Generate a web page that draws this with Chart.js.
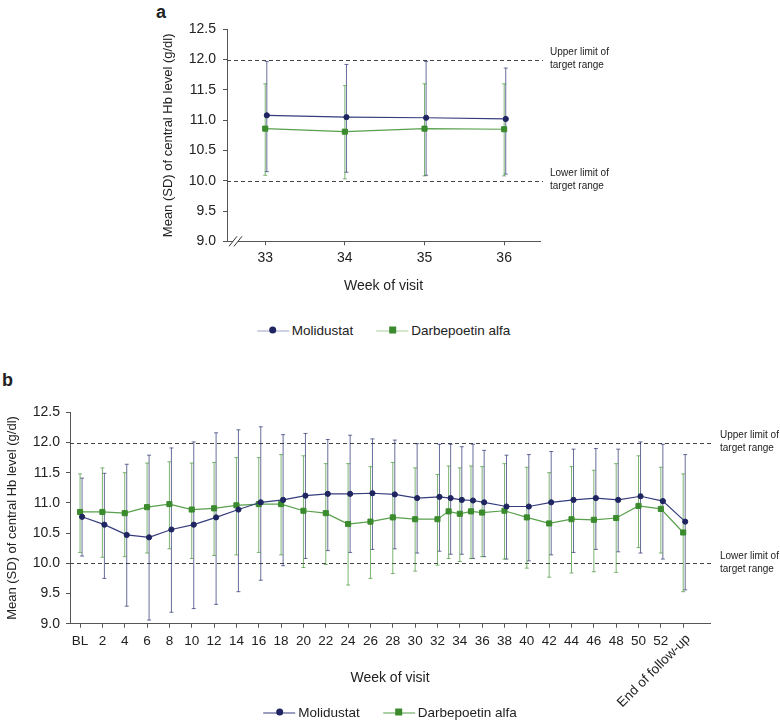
<!DOCTYPE html>
<html>
<head>
<meta charset="utf-8">
<script src="https://cdn.jsdelivr.net/npm/chart.js@4.4.1/dist/chart.umd.min.js"></script>
<style>
  html, body { margin: 0; padding: 0; background: #fff; }
  body { width: 780px; height: 721px; position: relative; overflow: hidden;
         font-family: 'Liberation Sans', Arial, sans-serif; color: #222; }
  canvas { position: absolute; left: 0; }
  #chartA { top: 0; }
  #chartB { top: 350px; }
  .tag { position: absolute; font-weight: bold; font-size: 18px; line-height: 18px; }
  .legend { position: absolute; display: flex; gap: 23px; transform: translate(-50%, -50%);
            font-size: 13.5px; white-space: nowrap; }
  .item { display: flex; align-items: center; }
  .swatch { position: relative; width: 32px; height: 10px; margin-right: 3px; }
  .swatch .ln { position: absolute; left: 0; right: 0; top: 5px; height: 1px; }
  .swatch .mk { position: absolute; left: 12.5px; top: 1.5px; width: 7px; height: 7px; }
</style>
</head>
<body>
<div class="tag" style="left:156px; top:3px;">a</div>
<div class="tag" style="left:2px; top:371px;">b</div>
<canvas id="chartA" width="780" height="300"></canvas>
<canvas id="chartB" width="780" height="371"></canvas>
<div class="legend" id="legendA" style="top:330px;"></div>
<div class="legend" id="legendB" style="top:712px;"></div>
<script>
// ---- data ----
const seriesNames = ['Molidustat', 'Darbepoetin alfa'];

// panel a: weeks 33-36
const weeksA = [33, 34, 35, 36];
const moliMeanA = [11.08, 11.05, 11.04, 11.02];
const moliUpA   = [11.97, 11.92, 11.97, 11.86];
const moliLowA  = [10.15, 10.14, 10.09, 10.11];
const darbMeanA = [10.86, 10.81, 10.86, 10.85];
const darbUpA   = [11.60, 11.57, 11.60, 11.60];
const darbLowA  = [10.09, 10.03, 10.08, 10.08];

// panel b: whole study (BL = week 0, end of follow-up plotted at 54)
const weeksB = [0, 2, 4, 6, 8, 10, 12, 14, 16, 18, 20, 22, 24, 26, 28, 30, 32, 33, 34, 35, 36,
                38, 40, 42, 44, 46, 48, 50, 52, 54];
const moliMeanB = [10.77, 10.64, 10.47, 10.43, 10.56, 10.64, 10.76, 10.89, 11.01, 11.05, 11.12, 11.15,
                   11.15, 11.16, 11.14, 11.08, 11.10, 11.08, 11.05, 11.04, 11.01, 10.94, 10.94, 11.01,
                   11.05, 11.08, 11.05, 11.11, 11.03, 10.69];
const moliUpB   = [11.41, 11.49, 11.64, 11.79, 11.91, 12.01, 12.16, 12.21, 12.26, 12.13, 12.15, 12.05,
                   12.12, 12.06, 12.04, 11.98, 11.97, 11.97, 11.93, 11.97, 11.87, 11.79, 11.80, 11.85,
                   11.89, 11.90, 11.89, 12.01, 11.97, 11.80];
const moliLowB  = [10.12, 9.75, 9.29, 9.06, 9.19, 9.25, 9.32, 9.53, 9.72, 9.96, 10.08, 10.21,
                   10.18, 10.23, 10.24, 10.17, 10.20, 10.15, 10.15, 10.08, 10.11, 10.07, 10.04, 10.14,
                   10.18, 10.23, 10.19, 10.17, 10.07, 9.56];
const darbMeanB = [10.85, 10.85, 10.83, 10.93, 10.98, 10.89, 10.91, 10.96, 10.98, 10.98, 10.87, 10.83,
                   10.65, 10.69, 10.76, 10.73, 10.73, 10.86, 10.82, 10.86, 10.84, 10.87, 10.76, 10.66,
                   10.73, 10.72, 10.75, 10.95, 10.90, 10.51];
const darbUpB   = [11.48, 11.58, 11.50, 11.66, 11.68, 11.66, 11.67, 11.75, 11.75, 11.80, 11.78, 11.65,
                   11.65, 11.60, 11.67, 11.58, 11.47, 11.61, 11.58, 11.61, 11.60, 11.65, 11.59, 11.50,
                   11.60, 11.54, 11.65, 11.78, 11.59, 11.48];
const darbLowB  = [10.18, 10.10, 10.11, 10.17, 10.24, 10.08, 10.13, 10.14, 10.18, 10.14, 9.93, 9.98,
                   9.64, 9.75, 9.83, 9.87, 9.97, 10.08, 10.03, 10.08, 10.11, 10.07, 9.92, 9.77,
                   9.84, 9.86, 9.85, 10.26, 10.17, 9.53];

// ticks
const yTicks = [9.0, 9.5, 10.0, 10.5, 11.0, 11.5, 12.0, 12.5];
const xTicksA = [33, 34, 35, 36];
const xTickWeeksB = [0, 2, 4, 6, 8, 10, 12, 14, 16, 18, 20, 22, 24, 26, 28, 30, 32, 34, 36, 38,
                     40, 42, 44, 46, 48, 50, 52, 54];
const xTickLabelsB = ['BL', '2', '4', '6', '8', '10', '12', '14', '16', '18', '20', '22', '24', '26',
                      '28', '30', '32', '34', '36', '38', '40', '42', '44', '46', '48', '50', '52',
                      'End of follow-up'];

// target range
const targetLimits = [12.0, 10.0];
const targetNotes = [['Upper limit of', 'target range'], ['Lower limit of', 'target range']];

// ---- style ----
const FONT = "'Liberation Sans', Arial, sans-serif";
const NAVY = '#1f2560';
const NAVY_LINE = '#363d7c';
const NAVY_ERR = 'rgba(40, 48, 112, 0.7)';
const GREEN = '#3b8b2e';
const GREEN_LINE = '#58a04b';
const GREEN_ERR = 'rgba(70, 150, 55, 0.7)';
const AXIS = '#555';
const yTitle = 'Mean (SD) of central Hb level (g/dl)';

Chart.defaults.font.family = FONT;
Chart.defaults.color = '#222';

// draws SD whiskers from the errUp/errLow arrays on each dataset
const errorBars = {
  id: 'errorBars',
  beforeDatasetsDraw(chart) {
    const ctx = chart.ctx, ys = chart.scales.y;
    chart.data.datasets.forEach((ds, i) => {
      const meta = chart.getDatasetMeta(i);
      ctx.save();
      ctx.strokeStyle = ds.errColor;
      ctx.lineWidth = 1;
      meta.data.forEach((pt, j) => {
        const x = pt.x;
        const yt = ys.getPixelForValue(ds.errUp[j]);
        const yb = ys.getPixelForValue(ds.errLow[j]);
        ctx.beginPath();
        ctx.moveTo(x, yt); ctx.lineTo(x, yb);
        ctx.moveTo(x - 2, yt); ctx.lineTo(x + 2, yt);
        ctx.moveTo(x - 2, yb); ctx.lineTo(x + 2, yb);
        ctx.stroke();
      });
      ctx.restore();
    });
  }
};

// dashed target-range lines with notes at the right
const targetLines = {
  id: 'targetLines',
  beforeDatasetsDraw(chart) {
    const ctx = chart.ctx, a = chart.chartArea, ys = chart.scales.y;
    ctx.save();
    ctx.strokeStyle = '#444';
    ctx.lineWidth = 1;
    ctx.setLineDash([4, 3]);
    targetLimits.forEach(v => {
      const y = Math.round(ys.getPixelForValue(v)) + 0.5;
      ctx.beginPath();
      ctx.moveTo(a.left, y);
      ctx.lineTo(a.right + 3, y);
      ctx.stroke();
    });
    ctx.restore();
  },
  afterDraw(chart) {
    const ctx = chart.ctx, a = chart.chartArea, ys = chart.scales.y;
    ctx.save();
    ctx.fillStyle = '#222';
    ctx.font = '10px ' + FONT;
    ctx.textBaseline = 'middle';
    targetLimits.forEach((v, k) => {
      const y = ys.getPixelForValue(v);
      ctx.fillText(targetNotes[k][0], a.right + 10, y - 7);
      ctx.fillText(targetNotes[k][1], a.right + 10, y + 5.5);
    });
    ctx.restore();
  }
};

function makeChart(id, o) {
  return new Chart(document.getElementById(id), {
    type: 'line',
    data: {
      datasets: [
        {
          label: seriesNames[0],
          data: o.weeks.map((w, i) => ({ x: w + o.dodge, y: o.moliMean[i] })),
          errUp: o.moliUp, errLow: o.moliLow, errColor: NAVY_ERR,
          borderColor: NAVY_LINE, borderWidth: 1.2, tension: 0,
          pointStyle: 'circle', pointRadius: 2.6, pointBorderWidth: 1,
          pointBackgroundColor: NAVY, pointBorderColor: NAVY
        },
        {
          label: seriesNames[1],
          data: o.weeks.map((w, i) => ({ x: w, y: o.darbMean[i] })),
          errUp: o.darbUp, errLow: o.darbLow, errColor: GREEN_ERR,
          borderColor: GREEN_LINE, borderWidth: 1.2, tension: 0,
          pointStyle: 'rect', pointRadius: 3.6, pointBorderWidth: 1,
          pointBackgroundColor: GREEN, pointBorderColor: GREEN
        }
      ]
    },
    options: {
      responsive: false,
      animation: false,
      devicePixelRatio: 1,
      layout: { padding: o.padding },
      plugins: { legend: { display: false }, tooltip: { enabled: false } },
      scales: {
        x: {
          type: 'linear', min: o.xMin, max: o.xMax,
          afterBuildTicks: s => { s.ticks = o.xTicks.map(v => ({ value: v })); },
          afterFit: s => { s.height = o.xHeight; },
          ticks: { autoSkip: false, maxRotation: 0, font: { size: o.xTickSize }, padding: o.xTickPad,
                   color: '#222', callback: o.xLabel },
          grid: { display: true, drawOnChartArea: false, drawTicks: true, tickLength: 4, color: AXIS },
          border: { display: true, color: AXIS, width: 1 },
          title: { display: true, text: 'Week of visit', font: { size: 14 }, color: '#222',
                   padding: { top: 0, bottom: o.xTitlePad } }
        },
        y: {
          min: 9, max: 12.5,
          afterBuildTicks: s => { s.ticks = yTicks.map(v => ({ value: v })); },
          afterFit: s => { s.width = o.yWidth; },
          ticks: { font: { size: 14 }, padding: o.yTickPad, color: '#222', callback: v => v.toFixed(1) },
          grid: { display: true, drawOnChartArea: false, drawTicks: true, tickLength: 4, color: AXIS },
          border: { display: true, color: AXIS, width: 1 },
          title: { display: true, text: yTitle, font: { size: 13 }, color: '#222',
                   padding: { top: o.yTitlePad, bottom: 0 } }
        }
      }
    },
    plugins: [targetLines, errorBars].concat(o.extra || [])
  });
}

// axis break marks on panel a
const axisBreak = {
  id: 'axisBreak',
  afterDraw(chart) {
    const ctx = chart.ctx, a = chart.chartArea;
    ctx.save();
    ctx.fillStyle = '#fff';
    ctx.fillRect(a.left + 6, a.bottom - 2, 5, 4);
    ctx.strokeStyle = '#333';
    ctx.lineWidth = 1;
    ctx.beginPath();
    ctx.moveTo(a.left + 2, a.bottom + 5); ctx.lineTo(a.left + 10, a.bottom - 5);
    ctx.moveTo(a.left + 7, a.bottom + 5); ctx.lineTo(a.left + 15, a.bottom - 5);
    ctx.stroke();
    ctx.restore();
  }
};

// rotated last tick label on panel b
const endLabel = {
  id: 'endLabel',
  afterDraw(chart) {
    const ctx = chart.ctx, xs = chart.scales.x, a = chart.chartArea;
    const last = xTickWeeksB.length - 1;
    const x = xs.getPixelForValue(xTickWeeksB[last]);
    ctx.save();
    ctx.translate(x + 5, a.bottom + 13);
    ctx.rotate(-45 * Math.PI / 180);
    ctx.font = '13.5px ' + FONT;
    ctx.fillStyle = '#222';
    ctx.textAlign = 'right';
    ctx.textBaseline = 'middle';
    ctx.fillText(xTickLabelsB[last], 0, 0);
    ctx.restore();
  }
};

const chartA = makeChart('chartA', {
  weeks: weeksA, dodge: 0.02,
  moliMean: moliMeanA, moliUp: moliUpA, moliLow: moliLowA,
  darbMean: darbMeanA, darbUp: darbUpA, darbLow: darbLowA,
  xMin: 32.52, xMax: 36.45, xTicks: xTicksA, xLabel: v => String(v),
  padding: { left: 150, right: 240, top: 29.3, bottom: 0 },
  xHeight: 58.7, xTickSize: 14, xTickPad: 4, xTitlePad: 5.6,
  yWidth: 77, yTickPad: 7, yTitlePad: 10.2,
  extra: [axisBreak]
});

const chartB = makeChart('chartB', {
  weeks: weeksB, dodge: 0.18,
  moliMean: moliMeanB, moliUp: moliUpB, moliLow: moliLowB,
  darbMean: darbMeanB, darbUp: darbUpB, darbLow: darbLowB,
  xMin: -0.9, xMax: 56.4, xTicks: xTickWeeksB,
  xLabel: v => { const i = xTickWeeksB.indexOf(v); return i === xTickWeeksB.length - 1 ? '' : xTickLabelsB[i]; },
  padding: { left: 0, right: 70, top: 62.3, bottom: 0 },
  xHeight: 97.3, xTickSize: 13.5, xTickPad: 5, xTitlePad: 34.6,
  yWidth: 70, yTickPad: 6, yTitlePad: 4.2,
  extra: [endLabel]
});

// html legends, centred under each plot area
function buildLegend(elId, chart, lineCols) {
  const el = document.getElementById(elId);
  const marks = [
    { bg: NAVY, radius: '50%' },
    { bg: GREEN, radius: '0' }
  ];
  seriesNames.forEach((name, i) => {
    const item = document.createElement('div');
    item.className = 'item';
    item.innerHTML = '<div class="swatch"><div class="ln" style="background:' + lineCols[i] + '"></div>' +
      '<div class="mk" style="background:' + marks[i].bg + ';border-radius:' + marks[i].radius + '"></div></div>' +
      '<span>' + name + '</span>';
    el.appendChild(item);
  });
  const a = chart.chartArea;
  el.style.left = ((a.left + a.right) / 2) + 'px';
}
buildLegend('legendA', chartA, ['#9ea3c8', '#a6cf9c']);
buildLegend('legendB', chartB, [NAVY_LINE, GREEN_LINE]);
</script>
</body>
</html>
